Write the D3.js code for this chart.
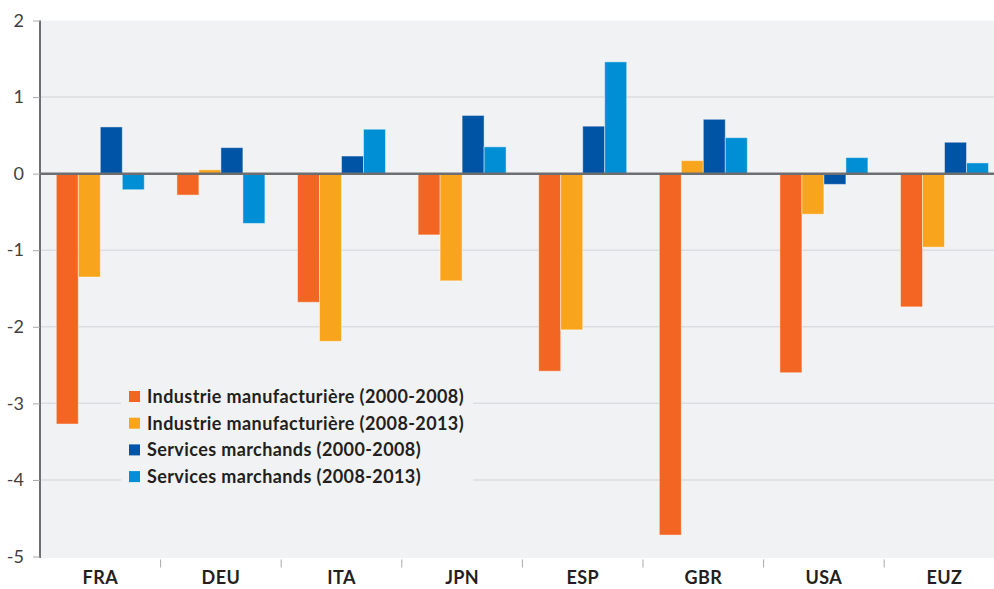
<!DOCTYPE html>
<html>
<head>
<meta charset="utf-8">
<script src="https://cdn.jsdelivr.net/npm/d3@7"></script>
<style>
  body { margin: 0; background: #ffffff; }
  svg { display: block; font-family: Lato, "Noto Sans", sans-serif; }
</style>
</head>
<body>
<div id="chart"></div>
<script>
const countries = ["FRA", "DEU", "ITA", "JPN", "ESP", "GBR", "USA", "EUZ"];
const seriesNames = [
  "Industrie manufacturière (2000-2008)",
  "Industrie manufacturière (2008-2013)",
  "Services marchands (2000-2008)",
  "Services marchands (2008-2013)"
];
const industry0008 = [-3.27, -0.28, -1.68, -0.80, -2.58, -4.72, -2.60, -1.74];
const industry0813 = [-1.35, 0.05, -2.19, -1.40, -2.04, 0.17, -0.53, -0.96];
const services0008 = [0.61, 0.34, 0.23, 0.76, 0.62, 0.71, -0.14, 0.41];
const services0813 = [-0.21, -0.65, 0.58, 0.35, 1.46, 0.47, 0.21, 0.14];
const yTicks = [2, 1, 0, -1, -2, -3, -4, -5];

const colors = ["#f26522", "#f8a51d", "#0054a6", "#008fd5"];
const allSeries = [industry0008, industry0813, services0008, services0813];

const width = 994;
const height = 589;
const left = 40; // y axis position

const svg = d3.select("#chart")
  .append("svg")
  .attr("width", width)
  .attr("height", height);

const y = d3.scaleLinear().domain([-5, 2]).range([556.5, 20.5]);

// bands run past the right edge, like the original
const x0 = d3.scaleBand().domain(countries).range([left, left + 8 * 120.6]);
const x1 = d3.scaleBand().domain(d3.range(4)).range([16.3, 16.3 + 88]);

// plot background
svg.append("rect")
  .attr("x", left).attr("y", y(2))
  .attr("width", width - left).attr("height", y(-5) - y(2) + 1.5)
  .attr("fill", "#f1f2f4");

// gridlines
svg.append("g")
  .selectAll("line")
  .data(yTicks.filter(d => d !== 0 && d !== 2 && d !== -5))
  .join("line")
  .attr("x1", left).attr("x2", width)
  .attr("y1", d => y(d)).attr("y2", d => y(d))
  .attr("stroke", "#dcdde1").attr("stroke-width", 1.5);

// bars
const groups = svg.append("g")
  .selectAll("g")
  .data(countries)
  .join("g")
  .attr("transform", d => `translate(${x0(d)},0)`);

groups.selectAll("rect")
  .data((c, i) => allSeries.map((s, k) => ({ k: k, v: s[i] })))
  .join("rect")
  .attr("x", d => x1(d.k))
  .attr("width", x1.bandwidth())
  .attr("y", d => y(Math.max(0, d.v)))
  .attr("height", d => Math.abs(y(d.v) - y(0)))
  .attr("fill", d => colors[d.k])
  .attr("stroke", "#ffffff")
  .attr("stroke-opacity", 0.45)
  .attr("stroke-width", 1);

// zero line
svg.append("line")
  .attr("x1", left).attr("x2", width)
  .attr("y1", y(0)).attr("y2", y(0))
  .attr("stroke", "#6d6e71").attr("stroke-width", 2.5);

// y axis
const yAxis = svg.append("g")
  .attr("transform", `translate(${left},0)`)
  .call(d3.axisLeft(y).tickValues(yTicks).tickSize(7).tickPadding(9).tickFormat(d => String(d)));
yAxis.select(".domain").attr("stroke", "#6d6e71").attr("stroke-width", 2)
  .attr("d", `M0,${y(2)}V${y(-5) + 1.5}`);
yAxis.selectAll(".tick line").attr("stroke", "#a7a9ac");
yAxis.selectAll(".tick text")
  .attr("fill", "#414042")
  .style("font-size", "18px")
  .style("font-family", "Lato, sans-serif");

// x axis
const xAxis = svg.append("g")
  .attr("transform", `translate(0,${y(-5) + 3})`)
  .call(d3.axisBottom(x0).tickSize(0).tickPadding(12));
xAxis.select(".domain").remove();
xAxis.selectAll(".tick text")
  .attr("fill", "#231f20")
  .style("font-size", "18px")
  .style("letter-spacing", "0.4px")
  .style("font-weight", "bold")
  .style("font-family", "Lato, sans-serif");

// separators between categories
svg.append("g")
  .selectAll("line")
  .data(countries.slice(1))
  .join("line")
  .attr("x1", d => x0(d)).attr("x2", d => x0(d))
  .attr("y1", y(-5) + 3).attr("y2", y(-5) + 11)
  .attr("stroke", "#a7a9ac").attr("stroke-width", 1);

// legend
const legend = svg.append("g").attr("transform", "translate(129,391)");
legend.append("rect")
  .attr("x", -8).attr("y", -8)
  .attr("width", 352).attr("height", 104)
  .attr("fill", "#f1f2f4");

const items = legend.selectAll("g")
  .data(seriesNames)
  .join("g")
  .attr("transform", (d, i) => `translate(0,${i * 26.7})`);
items.append("rect")
  .attr("width", 11).attr("height", 11)
  .attr("fill", (d, i) => colors[i]);
items.append("text")
  .attr("x", 18).attr("y", 5.5)
  .attr("dy", "0.36em")
  .attr("fill", "#231f20")
  .style("font-size", "18px")
  .style("letter-spacing", "0.4px")
  .style("font-weight", "bold")
  .text(d => d);
</script>
</body>
</html>
